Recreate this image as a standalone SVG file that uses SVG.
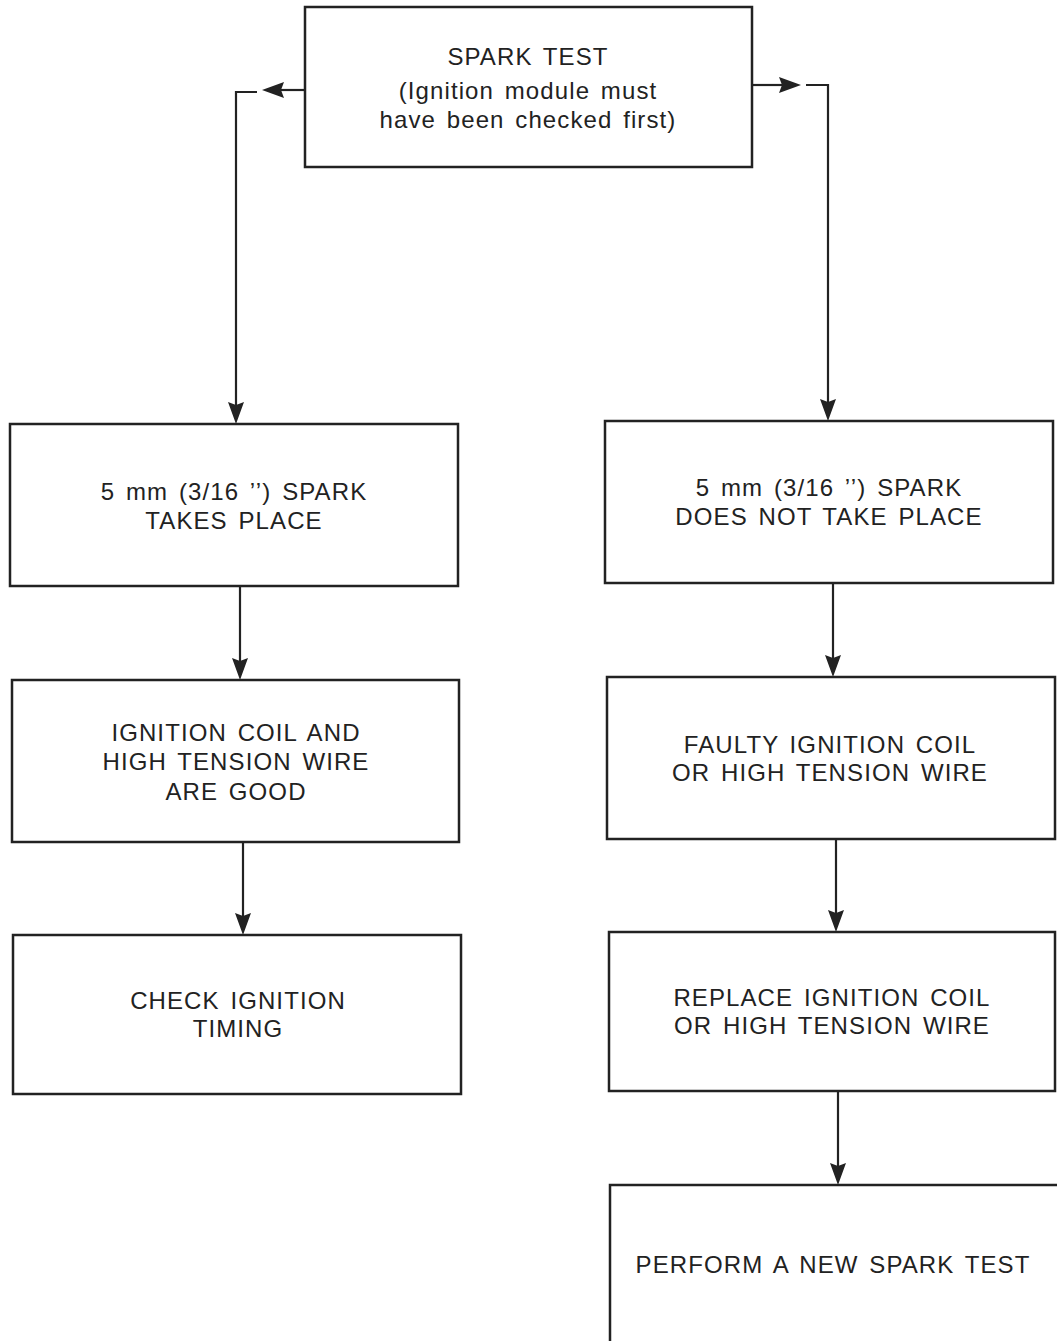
<svg xmlns="http://www.w3.org/2000/svg" width="1057" height="1341" viewBox="0 0 1057 1341">
<defs>
<style>
.box{fill:#fff;stroke:#222;stroke-width:2.5}
.t{font-family:"Liberation Sans",Arial,sans-serif;font-size:24px;letter-spacing:1.1px;word-spacing:3px;fill:#222;text-anchor:middle}
.c{fill:none;stroke:#222;stroke-width:2.2}
.a{fill:#222}
</style>
</defs>
<rect width="1057" height="1341" fill="#fff"/>
<g id="connectors">
<line class="c" x1="305" y1="90" x2="280" y2="90"/>
<polygon class="a" points="262,90 284,82 281,90 284,98"/>
<polyline class="c" points="257,92 236,92 236,406"/>
<polygon class="a" points="236,424 228,402 236,405 244,402"/>
<line class="c" x1="752" y1="85" x2="784" y2="85"/>
<polygon class="a" points="801,85 779,77 782,85 779,93"/>
<polyline class="c" points="806,85 828,85 828,403"/>
<polygon class="a" points="828,421 820,399 828,402 836,399"/>
<line class="c" x1="240" y1="586" x2="240" y2="662"/>
<polygon class="a" points="240,680 232,658 240,661 248,658"/>
<line class="c" x1="243" y1="842" x2="243" y2="917"/>
<polygon class="a" points="243,935 235,913 243,916 251,913"/>
<line class="c" x1="833" y1="583" x2="833" y2="659"/>
<polygon class="a" points="833,677 825,655 833,658 841,655"/>
<line class="c" x1="836" y1="839" x2="836" y2="914"/>
<polygon class="a" points="836,932 828,910 836,913 844,910"/>
<line class="c" x1="838" y1="1091" x2="838" y2="1167"/>
<polygon class="a" points="838,1185 830,1163 838,1166 846,1163"/>
</g>
<g id="n-top">
<rect class="box" x="305" y="7" width="447" height="160"/>
<text class="t" x="528" y="65">SPARK TEST</text>
<text class="t" x="528" y="99">(Ignition module must</text>
<text class="t" x="528" y="128">have been checked first)</text>
</g>
<g id="n-l1">
<rect class="box" x="10" y="424" width="448" height="162"/>
<text class="t" x="234" y="500">5 mm (3/16 ’’) SPARK</text>
<text class="t" x="234" y="529">TAKES PLACE</text>
</g>
<g id="n-l2">
<rect class="box" x="12" y="680" width="447" height="162"/>
<text class="t" x="236" y="741">IGNITION COIL AND</text>
<text class="t" x="236" y="770">HIGH TENSION WIRE</text>
<text class="t" x="236" y="800">ARE GOOD</text>
</g>
<g id="n-l3">
<rect class="box" x="13" y="935" width="448" height="159"/>
<text class="t" x="238" y="1009">CHECK IGNITION</text>
<text class="t" x="238" y="1037">TIMING</text>
</g>
<g id="n-r1">
<rect class="box" x="605" y="421" width="448" height="162"/>
<text class="t" x="829" y="496">5 mm (3/16 ’’) SPARK</text>
<text class="t" x="829" y="525">DOES NOT TAKE PLACE</text>
</g>
<g id="n-r2">
<rect class="box" x="607" y="677" width="448" height="162"/>
<text class="t" x="830" y="753">FAULTY IGNITION COIL</text>
<text class="t" x="830" y="781">OR HIGH TENSION WIRE</text>
</g>
<g id="n-r3">
<rect class="box" x="609" y="932" width="446" height="159"/>
<text class="t" x="832" y="1006">REPLACE IGNITION COIL</text>
<text class="t" x="832" y="1034">OR HIGH TENSION WIRE</text>
</g>
<g id="n-r4">
<rect class="box" x="610" y="1185" width="460" height="170"/>
<text class="t" x="833" y="1273">PERFORM A NEW SPARK TEST</text>
</g>
</svg>
